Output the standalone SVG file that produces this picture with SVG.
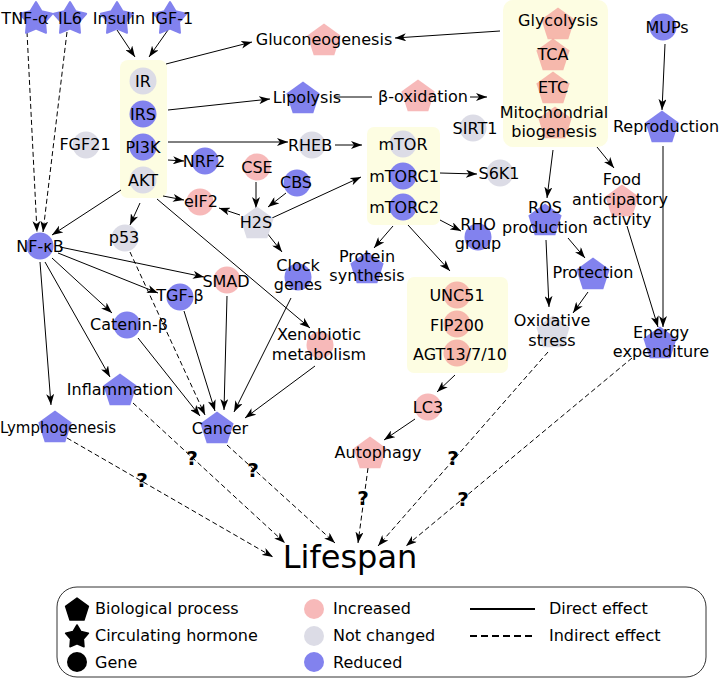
<svg xmlns="http://www.w3.org/2000/svg" xmlns:xlink="http://www.w3.org/1999/xlink" width="720" height="684" viewBox="0 0 720 684">
<style>
text{font-family:"DejaVu Sans","Liberation Sans",sans-serif;font-size:16px;fill:#000;text-anchor:middle}
.q{font-size:20px;font-weight:bold}
.lg{text-anchor:start}
.e{fill:none;stroke:#000;stroke-width:1;marker-end:url(#ah)}
.d{stroke-dasharray:5,3}
.n{marker-end:none}
.box{fill:#fdfde2}
.inc{fill:#f08080;fill-opacity:0.55}
.nc{fill:#dcdce6}
.red{fill:#8282ee}
.st{stroke:#8282ee;stroke-width:2;stroke-linejoin:round}
</style>
<defs>
<marker id="ah" viewBox="0 0 11 8" refX="11" refY="4" markerWidth="11" markerHeight="8" markerUnits="userSpaceOnUse" orient="auto"><path d="M0,0 L11,4 L0,8 L3,4 z" fill="#000"/></marker>
<polygon id="pent" points="0,-17.5 16.64,-5.41 10.29,14.16 -10.29,14.16 -16.64,-5.41"/>
<polygon id="star" points="0,-17 5.58,-7.69 16.17,-5.25 9.04,2.94 9.99,13.75 0,9.5 -9.99,13.75 -9.04,2.94 -16.17,-5.25 -5.58,-7.69"/>
<circle id="circ" r="13.5"/>
</defs>

<g id="boxes">
<rect class="box" x="120" y="60" width="47" height="138" rx="8"/>
<rect class="box" x="367" y="127" width="73" height="98" rx="7"/>
<rect class="box" x="407" y="277" width="101" height="96" rx="7"/>
<rect class="box" x="503" y="0" width="105" height="147" rx="10"/>
</g>

<g id="connectors">
<path class="e d" d="M27,32 L37,232"/>
<path class="e d" d="M67,32 L43,232"/>
<path class="e" d="M117,30 L135,57"/>
<path class="e" d="M168,30 L149,57"/>
<path class="e" d="M166,64 L252,42"/>
<path class="e" d="M500,31 L395,38"/>
<path class="e" d="M168,110 L270,99"/>
<path class="e n" d="M335,97 L372,97"/>
<path class="e" d="M470,97 L487,97"/>
<path class="e" d="M168,142 L288,142"/>
<path class="e" d="M335,145 L362,145"/>
<path class="e" d="M168,160 L184,161"/>
<path class="e" d="M163,196 L184,200"/>
<path class="e" d="M240,215 L219,208"/>
<path class="e" d="M256,182 L256,208"/>
<path class="e" d="M286,193 L268,207"/>
<path class="e" d="M272,218 L361,177"/>
<path class="e" d="M440,173 L477,174"/>
<path class="e" d="M440,220 L461,231"/>
<path class="e" d="M393,226 L374,248"/>
<path class="e" d="M408,225 L450,271"/>
<path class="e" d="M267,233 L282,252"/>
<path class="e" d="M121,190 L52,235"/>
<path class="e" d="M140,203 L130,225"/>
<path class="e" d="M157,199 L310,328"/>
<path class="e" d="M60,247 L204,277"/>
<path class="e" d="M58,253 L158,293"/>
<path class="e" d="M52,258 L112,313"/>
<path class="e" d="M45,262 L110,377"/>
<path class="e" d="M40,262 L51,405"/>
<path class="e" d="M138,338 L200,416"/>
<path class="e d" d="M130,252 L205,415"/>
<path class="e" d="M184,311 L215,411"/>
<path class="e" d="M227,296 L224,410"/>
<path class="e" d="M291,298 L234,412"/>
<path class="e" d="M315,366 L245,418"/>
<path class="e" d="M455,375 L437,392"/>
<path class="e" d="M415,419 L384,440"/>
<path class="e" d="M553,150 L547,198"/>
<path class="e" d="M597,147 L614,168"/>
<path class="e" d="M665,44 L662,110"/>
<path class="e" d="M663,146 L663,327"/>
<path class="e" d="M627,226 L658,327"/>
<path class="e" d="M568,238 L585,258"/>
<path class="e" d="M546,240 L549,307"/>
<path class="e" d="M588,292 L573,313"/>
<path class="e d" d="M67,438 L273,557"/>
<path class="e d" d="M133,403 L285,543"/>
<path class="e d" d="M227,445 L335,543"/>
<path class="e d" d="M368,468 L358,543"/>
<path class="e d" d="M548,352 L378,546"/>
<path class="e d" d="M632,358 L406,546"/>
<text class="q" x="142" y="487">?</text>
<text class="q" x="192" y="465">?</text>
<text class="q" x="253" y="477">?</text>
<text class="q" x="363" y="505">?</text>
<text class="q" x="453" y="465">?</text>
<text class="q" x="463" y="506">?</text>
</g>

<g id="TNF"><use href="#star" class="red st" x="36" y="19"/><text x="25" y="24">TNF-α</text></g>
<g id="IL6"><use href="#star" class="red st" x="70" y="19"/><text x="70" y="24">IL6</text></g>
<g id="Insulin"><use href="#star" class="red st" x="117" y="19"/><text x="119" y="24">Insulin</text></g>
<g id="IGF1"><use href="#star" class="red st" x="170" y="19"/><text x="172" y="24">IGF-1</text></g>

<g id="IR"><use href="#circ" class="nc" x="143" y="81"/><text x="143" y="87">IR</text></g>
<g id="IRS"><use href="#circ" class="red" x="143" y="114"/><text x="143" y="120">IRS</text></g>
<g id="PI3K"><use href="#circ" class="red" x="143" y="147"/><text x="143" y="153">PI3K</text></g>
<g id="AKT"><use href="#circ" class="nc" x="143" y="180"/><text x="143" y="186">AKT</text></g>
<g id="FGF21"><use href="#circ" class="nc" x="86" y="145"/><text x="85" y="150">FGF21</text></g>
<g id="NRF2"><use href="#circ" class="red" x="205" y="161"/><text x="204" y="167">NRF2</text></g>
<g id="CSE"><use href="#circ" class="inc" x="257" y="167"/><text x="257" y="173">CSE</text></g>
<g id="CBS"><use href="#circ" class="red" x="297" y="183"/><text x="296" y="188">CBS</text></g>
<g id="eIF2"><use href="#circ" class="inc" x="200" y="202"/><text x="201" y="207">eIF2</text></g>
<g id="H2S"><use href="#pent" class="nc" x="257" y="224"/><text x="256" y="228">H2S</text></g>
<g id="p53"><use href="#circ" class="nc" x="125" y="238"/><text x="124" y="243">p53</text></g>
<g id="NFkB"><use href="#circ" class="red" x="40" y="246"/><text x="40" y="252">NF-κB</text></g>
<g id="SMAD"><use href="#circ" class="inc" x="227" y="280"/><text x="226" y="287">SMAD</text></g>
<g id="TGFb"><use href="#circ" class="red" x="180" y="297"/><text x="180" y="301">TGF-β</text></g>
<g id="Catenin"><use href="#circ" class="red" x="127" y="325"/><text x="129" y="330">Catenin-β</text></g>
<g id="Clock"><use href="#circ" class="red" x="298" y="277"/><text x="298" y="271">Clock</text><text x="298" y="290">genes</text></g>
<g id="Xeno"><use href="#circ" class="inc" x="320" y="345"/><text x="319" y="340">Xenobiotic</text><text x="319" y="360">metabolism</text></g>
<g id="Inflammation"><use href="#pent" class="red" x="120" y="391"/><text x="120" y="395">Inflammation</text></g>
<g id="Lymphogenesis"><use href="#pent" class="red" x="55" y="428"/><text x="0" y="433" style="text-anchor:start;font-size:15px">Lymphogenesis</text></g>
<g id="Cancer"><use href="#pent" class="red" x="217" y="429"/><text x="220" y="434">Cancer</text></g>

<g id="Gluconeogenesis"><use href="#pent" class="inc" x="324" y="41"/><text x="324" y="45">Gluconeogenesis</text></g>
<g id="Lipolysis"><use href="#pent" class="red" x="303" y="99"/><text x="307" y="103">Lipolysis</text></g>
<g id="bOx"><use href="#pent" class="inc" x="418" y="97"/><text x="423" y="102">β-oxidation</text></g>
<g id="RHEB"><use href="#circ" class="nc" x="312" y="145"/><text x="310" y="151">RHEB</text></g>
<g id="mTOR"><use href="#circ" class="nc" x="403" y="144"/><text x="403" y="150">mTOR</text></g>
<g id="mTORC1"><use href="#circ" class="red" x="403" y="176"/><text x="404" y="182">mTORC1</text></g>
<g id="mTORC2"><use href="#circ" class="red" x="403" y="207"/><text x="404" y="213">mTORC2</text></g>
<g id="SIRT1"><use href="#circ" class="nc" x="473" y="128"/><text x="475" y="134">SIRT1</text></g>
<g id="S6K1"><use href="#circ" class="nc" x="500" y="173"/><text x="499" y="179">S6K1</text></g>
<g id="RHO"><use href="#circ" class="red" x="478" y="237"/><text x="478" y="230">RHO</text><text x="478" y="249">group</text></g>
<g id="Protein"><use href="#pent" class="red" x="367" y="269"/><text x="367" y="262">Protein</text><text x="367" y="281">synthesis</text></g>
<g id="UNC51"><use href="#circ" class="inc" x="457" y="295"/><text x="457" y="301">UNC51</text></g>
<g id="FIP200"><use href="#circ" class="inc" x="457" y="324"/><text x="457" y="331">FIP200</text></g>
<g id="AGT"><use href="#circ" class="inc" x="457" y="353"/><text x="460" y="360">AGT13/7/10</text></g>
<g id="LC3"><use href="#circ" class="inc" x="428" y="407"/><text x="428" y="413">LC3</text></g>
<g id="Autophagy"><use href="#pent" class="inc" x="370" y="454"/><text x="378" y="458">Autophagy</text></g>

<g id="Glycolysis"><use href="#pent" class="inc" x="558" y="25"/><text x="558" y="26">Glycolysis</text></g>
<g id="TCA"><use href="#pent" class="inc" x="553" y="56"/><text x="553" y="60">TCA</text></g>
<g id="ETC"><use href="#pent" class="inc" x="553" y="89"/><text x="553" y="93">ETC</text></g>
<g id="Mito"><use href="#pent" class="inc" x="555" y="124"/><text x="554" y="118">Mitochondrial</text><text x="554" y="137">biogenesis</text></g>
<g id="MUPs"><use href="#circ" class="red" x="663" y="27"/><text x="667" y="33">MUPs</text></g>
<g id="Reproduction"><use href="#pent" class="red" x="662" y="128"/><text x="666" y="132">Reproduction</text></g>
<g id="Food"><use href="#pent" class="inc" x="622" y="202"/><text x="622" y="185">Food</text><text x="620" y="205">anticipatory</text><text x="622" y="225">activity</text></g>
<g id="ROS"><use href="#pent" class="red" x="545" y="221"/><text x="545" y="213">ROS</text><text x="545" y="233">production</text></g>
<g id="Protection"><use href="#pent" class="red" x="593" y="275"/><text x="593" y="278">Protection</text></g>
<g id="Oxidative"><use href="#pent" class="nc" x="553" y="333"/><text x="552" y="326">Oxidative</text><text x="552" y="346">stress</text></g>
<g id="Energy"><use href="#pent" class="red" x="660" y="344"/><text x="661" y="338">Energy</text><text x="661" y="357">expenditure</text></g>

<g id="Lifespan"><text x="350" y="568" style="font-size:32px">Lifespan</text></g>

<g id="legend">
<rect x="57" y="587" width="649" height="90" rx="20" fill="#fff" stroke="#333" stroke-width="1"/>
<polygon points="77,598 88.4,606.3 84,619.9 70,619.9 65.6,606.3" fill="#000" stroke="#000" stroke-linejoin="round" stroke-width="1.5"/>
<polygon points="77,625 81,631.6 88.4,633.3 83.4,639.1 84,646.8 77,643.7 70,646.8 70.6,639.1 65.6,633.3 73,631.6" fill="#000" stroke="#000" stroke-linejoin="round" stroke-width="1.5"/>
<circle cx="77" cy="662" r="10" fill="#000"/>
<text class="lg" x="95" y="614">Biological process</text>
<text class="lg" x="95" y="641">Circulating hormone</text>
<text class="lg" x="95" y="668">Gene</text>
<circle cx="314" cy="609" r="10" class="inc"/>
<circle cx="314" cy="636" r="10" class="nc"/>
<circle cx="314" cy="662" r="10" class="red"/>
<text class="lg" x="333" y="614">Increased</text>
<text class="lg" x="333" y="641">Not changed</text>
<text class="lg" x="333" y="668">Reduced</text>
<line x1="470" y1="609" x2="535" y2="609" stroke="#000" stroke-width="2"/>
<line x1="470" y1="636" x2="535" y2="636" stroke="#000" stroke-width="2" stroke-dasharray="7,4"/>
<text class="lg" x="549" y="614">Direct effect</text>
<text class="lg" x="549" y="641">Indirect effect</text>
</g>
</svg>
